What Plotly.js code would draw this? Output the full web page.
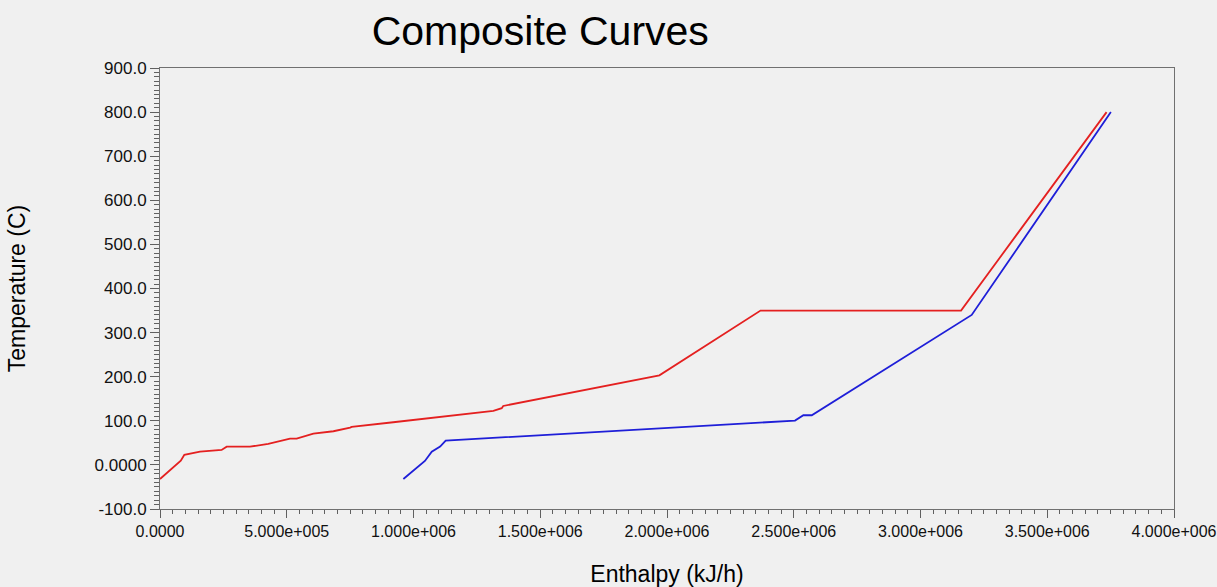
<!DOCTYPE html>
<html>
<head>
<meta charset="utf-8">
<script src="https://cdn.plot.ly/plotly-3.0.1.min.js"></script>
<style>html,body{margin:0;padding:0;background:#f0f0f0;}#chart{width:1217px;height:587px;}</style>
</head>
<body>
<div id="chart"></div>
<script>
// Hot composite curve (red)
const hotH = [0, 82000, 96000, 158000, 243000, 263000, 355000, 427000, 513000, 539000, 605000, 684000, 750000, 756000, 920000, 1105000, 1315000, 1348000, 1354000, 1970000, 2369000, 3160000, 3734000];
const hotT = [-32, 9.6, 23, 30, 34, 41.4, 41.4, 47.5, 59.5, 59.5, 70.9, 76.3, 84.5, 86, 96.7, 109.4, 122.4, 128.5, 133.7, 203, 350, 350, 800];
// Cold composite curve (blue)
const coldH = [960000, 1045000, 1072000, 1105000, 1127000, 2505000, 2538000, 2571000, 3202000, 3751000];
const coldT = [-32, 9, 30, 41.4, 55, 100.4, 112.6, 112.6, 340, 800];

const xTickVals = [0, 500000, 1000000, 1500000, 2000000, 2500000, 3000000, 3500000, 4000000];
const xTickText = ["0.0000", "5.000e+005", "1.000e+006", "1.500e+006", "2.000e+006", "2.500e+006", "3.000e+006", "3.500e+006", "4.000e+006"];
const yTickVals = [-100, 0, 100, 200, 300, 400, 500, 600, 700, 800, 900];
const yTickText = ["-100.0", "0.0000", "100.0", "200.0", "300.0", "400.0", "500.0", "600.0", "700.0", "800.0", "900.0"];
const xRange = [0, 4000000];
const yRange = [-100, 900];

const traces = [
  {x: hotH, y: hotT, type: 'scatter', mode: 'lines', name: 'Hot', line: {color: '#e42020', width: 1.8}},
  {x: coldH, y: coldT, type: 'scatter', mode: 'lines', name: 'Cold', line: {color: '#1e1ed8', width: 1.8}},
  {x: [], y: [], type: 'scatter', mode: 'lines', xaxis: 'x2', yaxis: 'y2', hoverinfo: 'skip'}
];

const fontFam = '"Liberation Sans", Arial, sans-serif';
const tickCol = '#606060';
const layout = {
  width: 1217, height: 587,
  paper_bgcolor: '#f0f0f0', plot_bgcolor: '#f0f0f0',
  margin: {l: 160, r: 43, t: 68, b: 78},
  showlegend: false,
  title: {text: 'Composite Curves', font: {family: fontFam, size: 41, color: '#000'}, x: 0.375, xref: 'paper', xanchor: 'center', y: 0.948, yanchor: 'middle'},
  xaxis: {
    range: xRange, tickmode: 'array', tickvals: xTickVals, ticktext: xTickText,
    ticks: 'outside', ticklen: 8, tickcolor: tickCol, tickwidth: 1, ticklabeloverflow: 'allow',
    showgrid: false, zeroline: false, showline: true, linecolor: '#707070', linewidth: 1, mirror: true,
    tickfont: {family: fontFam, size: 16, color: '#111'},
    title: {text: 'Enthalpy (kJ/h)', font: {family: fontFam, size: 23, color: '#000'}, standoff: 31}
  },
  yaxis: {
    range: yRange, tickmode: 'array', tickvals: yTickVals, ticktext: yTickText,
    ticks: 'outside', ticklen: 9, tickcolor: tickCol, tickwidth: 1,
    showgrid: false, zeroline: false, showline: true, linecolor: '#707070', linewidth: 1, mirror: true,
    tickfont: {family: fontFam, size: 17, color: '#111'},
    title: {text: 'Temperature (C)', font: {family: fontFam, size: 23, color: '#000'}, standoff: 62}
  },
  xaxis2: {
    range: xRange, overlaying: 'x', anchor: 'y2', side: 'bottom', tickmode: 'linear', tick0: 0, dtick: 50000,
    ticks: 'outside', ticklen: 4, tickcolor: tickCol, showticklabels: false, showgrid: false, zeroline: false, showline: false
  },
  yaxis2: {
    range: yRange, overlaying: 'y', anchor: 'x2', side: 'left', tickmode: 'linear', tick0: 0, dtick: 10,
    ticks: 'outside', ticklen: 5, tickcolor: tickCol, showticklabels: false, showgrid: false, zeroline: false, showline: false
  }
};

Plotly.newPlot('chart', traces, layout, {displayModeBar: false, staticPlot: true});
</script>
</body>
</html>
